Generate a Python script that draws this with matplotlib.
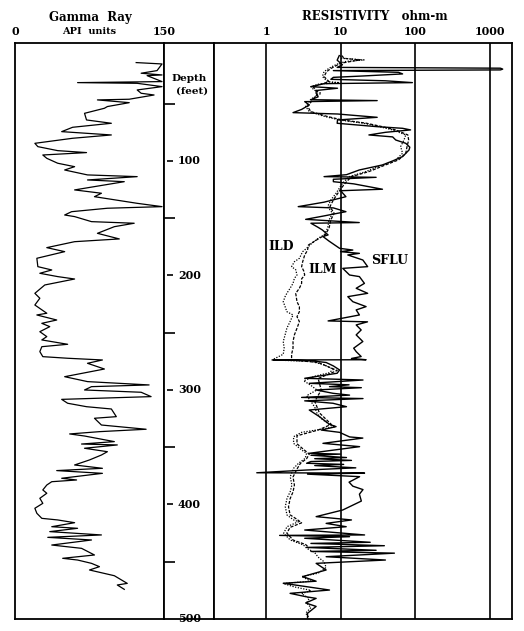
import matplotlib.pyplot as plt
import matplotlib.transforms as mtransforms

# gamma ray log (depth ft, API units)
gr_depth = [14.1, 15.3, 21.1, 23.4, 24.9, 25.5, 30.7, 31.6, 32.2, 35.1, 38.0, 40.9, 42.4,
            46.1, 46.7, 49.1, 52.5, 54.0, 58.4, 64.2, 67.1, 70.6, 74.4, 77.3, 80.2, 84.6,
            87.5, 91.0, 92.7, 94.8, 97.7, 102.0, 105.0, 107.9, 112.2, 113.7, 116.6, 118.1,
            122.4, 125.3, 128.2, 131.2, 137.0, 139.9, 141.3, 144.3, 147.2, 148.6, 153.0,
            154.4, 157.4, 163.2, 168.1, 170.5, 175.7, 179.2, 185.0, 192.3, 195.2, 198.1,
            201.0, 203.1, 208.3, 215.6, 219.9, 225.8, 233.0, 234.5, 238.9, 241.8, 244.7,
            249.1, 253.4, 256.3, 260.1, 262.2, 266.5, 270.9, 272.3, 273.8, 276.7, 281.7,
            288.4, 292.7, 295.6, 297.1, 300.0, 302.0, 305.8, 308.2, 311.6, 314.6, 316.6,
            323.3, 324.7, 330.6, 334.3, 336.4, 338.4, 340.2, 345.1, 347.2, 348.0, 350.9,
            353.9, 356.8, 361.1, 365.5, 368.4, 370.4, 372.8, 377.1, 378.6, 380.1, 383.0,
            387.3, 390.2, 394.6, 399.0, 403.3, 407.7, 412.1, 413.5, 415.9, 419.4, 420.8,
            423.7, 426.6, 428.7, 431.0, 435.4, 438.3, 444.1, 447.0, 448.5, 451.4, 454.3,
            457.2, 462.2, 468.9, 470.3, 474.1]
gr_api = [122, 148, 143, 127, 148, 133, 148, 63, 123, 148, 123, 127, 140,
          115, 83, 115, 93, 90, 70, 72, 97, 58, 47, 97, 58, 20,
          23, 43, 72, 28, 32, 43, 60, 50, 73, 123, 73, 110,
          80, 60, 87, 80, 123, 148, 93, 57, 50, 60, 77,
          120, 100, 83, 105, 60, 32, 50, 22, 23, 37, 25,
          43, 60, 30, 20, 25, 20, 32, 22, 42, 27, 35,
          25, 32, 27, 53, 27, 25, 28, 53, 88, 73, 90,
          50, 73, 135, 77, 70, 127, 137, 47, 53, 72, 97,
          102, 80, 87, 132, 85, 55, 70, 100, 67, 103, 70,
          93, 87, 75, 60, 88, 42, 88, 47, 62, 37, 32,
          28, 32, 25, 28, 20, 22, 27, 43, 60, 37, 63,
          35, 87, 33, 77, 37, 67, 80, 48, 63, 77, 85,
          75, 100, 113, 103, 110]

# resistivity logs (depth ft, ohm-m)
sflu_depth = [8, 12, 16, 18.3, 18.5, 19.0, 19.8, 20.5, 21.1, 22.6, 24.0, 25.8, 27.0, 28.7,
              30.0, 31.6, 32.5, 35.1, 36.5, 38.5, 40.9, 44.0, 46.5, 47.3, 48.2, 51.1, 55.0,
              57.8, 59.0, 61.9, 64.2, 67.1, 70.0, 71.5, 72.9, 75.0, 77.3, 79.0, 81.7, 84.6,
              88.0, 90.4, 96.2, 100, 103.5, 107.9, 112, 113.7, 114.3, 116, 118.1, 120, 124.7,
              126, 131.2, 136, 139.9, 141, 144.3, 148, 151, 153.8, 154.4, 158, 160.3, 164.6,
              166, 170, 176.3, 177.8, 179.2, 180.7, 182.1, 186.5, 192.3, 193.8, 199.6, 201,
              206.9, 211.2, 215.6, 218.5, 222.9, 227.2, 230.1, 234.5, 239.7, 240.5, 243.2,
              247.6, 251.9, 257.7, 263.5, 266.5, 270.8, 272.5, 273.6, 273.8, 274.5, 276, 279,
              282.5, 285.4, 289.8, 291.3, 294.2, 295.5, 297.1, 298, 300, 302.9, 304.5, 306.5,
              307.5, 309.5, 311.6, 314.6, 317.5, 323.3, 330, 332, 335, 337, 341, 342, 346.6,
              349.5, 355.3, 356, 357, 359, 360, 361.5, 362.5, 364, 365, 366, 368, 369.9, 372.3,
              372.6, 373.5, 375.7, 380.5, 384, 387, 391, 397, 404.8, 410.6, 413.5, 416.5,
              419.4, 422.3, 426.6, 427, 428.1, 429.5, 433, 434, 436, 437.5, 440, 441, 442.5,
              445.6, 448.5, 451.4, 457.2, 463, 467, 468.8, 474.7, 477.6, 480.5, 482, 486, 489,
              495, 499]
sflu_ohm = [9.6, 9.0, 10.6, 9.0, 40, 1400, 1500, 1400, 8.0, 60, 68, 20, 8.0, 7.4,
            40, 92, 6.0, 4.0, 9.1, 4.7, 4.7, 5.0, 4.0, 31, 3.3, 3.8, 3.0,
            2.3, 9.1, 31, 9.1, 9.0, 30, 68, 87, 40, 24, 50, 55, 75,
            85, 83, 68, 50, 36.5, 17.8, 12, 6.0, 30, 8.0, 8.0, 15, 36.5,
            10, 11.8, 6.0, 2.7, 8.0, 11.8, 6.0, 3.4, 17.8, 4.0, 5.0, 5.7, 6.8,
            5.8, 7.0, 9.7, 14.6, 10, 17.9, 12.5, 19.9, 23.1, 10.7, 13.2, 17.9,
            20.9, 16.2, 23.1, 12.5, 14.6, 22, 16.2, 17.9, 6.8, 23, 16.2,
            18.9, 16.2, 19.9, 15, 16.2, 18.9, 14, 22, 1.24, 4.0, 6.4, 8.0,
            9.7, 9.0, 3.3, 20, 3.8, 13, 7.1, 19, 4.7, 7.9, 13.2, 3.0,
            20, 3.3, 7.9, 12, 3.8, 5.2, 7.1, 8.7, 5.5, 9.7, 13.2, 19.9, 5.8,
            18, 3.8, 10, 4, 12, 4.5, 14, 4, 3.5, 11, 4.5, 16, 3.5, 0.75,
            21, 3.6, 18, 13, 14.6, 20, 17.9, 19, 10.7, 4.7, 14, 6.4,
            11.9, 3.3, 21, 1.52, 13.2, 3.3, 25, 4, 38.7, 3.5, 30, 4, 52.8,
            6.4, 40, 4.7, 6.4, 3.1, 4.7, 1.7, 7.1, 2.1, 3.4, 4.7, 3.4, 4.7,
            3.6, 3.6]

ild_depth = [8, 10.3, 11.8, 13, 14.7, 17, 19.1, 22, 26.3, 30.7, 31.6, 33, 35.1, 38, 40.9,
             46, 52.5, 56.9, 61, 64.2, 67, 70, 72.9, 77.3, 81.7, 87.5, 93.3, 99.1, 103.5,
             109.3, 113.7, 119.5, 123.9, 128.2, 134.1, 139.9, 145.7, 151.5, 158.8, 164.6,
             167.5, 172, 176.3, 179.2, 185, 188, 192.3, 195, 199.6, 202.5, 206.9, 211.2,
             215.6, 218.5, 222.9, 227.2, 231.6, 234.5, 240.3, 246.1, 251.9, 257.7, 263.5,
             268.8, 273.8, 275, 278, 282, 285, 288, 292, 296, 300, 305, 310, 315, 320, 325,
             330, 332, 334.9, 337, 340.8, 346.6, 352.4, 355.3, 359.7, 364, 368.4, 375.7, 383,
             388.8, 394.6, 401.9, 409.2, 413.5, 415, 419.4, 425.2, 431, 435.4, 438.3, 442,
             446, 450, 455, 460, 463, 467, 469, 472, 475, 478, 482, 486, 490, 495, 499]
ild_ohm = [10, 10.1, 20.7, 12, 9.6, 8, 7.0, 6.0, 5.7, 6.7, 9.6, 5, 4.0, 4.4, 5.5,
           4, 3.4, 3.8, 6, 9.6, 20, 33, 50, 75, 71, 64, 68, 55, 36.5,
           21.8, 13.1, 10.6, 9.6, 8.7, 7.4, 6.7, 7.8, 7.0, 6.7, 6.0,
           5, 4.1, 3.5, 3.1, 2.8, 2.4, 2.2, 2.5, 2.6, 2.4, 2.3, 2.1,
           1.9, 1.8, 1.7, 1.8, 1.9, 2.3, 2.1, 1.9, 1.8, 1.7, 1.75,
           1.7, 1.2, 4.0, 6.0, 8.0, 7.0, 4.5, 3.2, 4.0, 4.8, 3.5, 4.0, 4.5, 4.8, 5.5,
           7.0, 8.5, 4.8, 3.0, 2.34, 2.34, 3.0, 3.5, 3.35, 2.73, 2.34, 2.11, 2.22,
           2.11, 1.91, 1.81, 1.91, 2.34, 2.73, 1.91, 1.72, 2.11, 3.18, 3.52, 4.5,
           5.0, 6.0, 6.4, 5.0, 3.0, 4.0, 1.7, 2.4, 4.0, 3.0, 3.8, 3.5, 4.0, 3.4, 3.8]

ilm_depth = [8, 10.3, 11.8, 14.7, 19.1, 22, 26.3, 30.7, 33, 35.1, 40.9, 46, 52.5, 56.9,
             61, 64.2, 67, 70, 72.9, 77.3, 81.7, 87.5, 93.3, 99.1, 103.5, 109.3, 113.7,
             119.5, 123.9, 128.2, 134.1, 139.9, 145.7, 151.5, 158.8, 164.6, 167.5, 173.4,
             178, 182.1, 188, 192.3, 196, 199.6, 203, 206.9, 211.2, 215.6, 222.9, 227.2,
             231.6, 236, 240.3, 246.1, 251.9, 257.7, 263.5, 268.8, 273.8, 276, 283, 290,
             300, 310, 320, 330, 335, 340, 347, 352, 356, 360, 364, 369, 376, 383, 389, 395,
             402, 409, 413, 416, 420, 425, 431, 435, 438]
ilm_ohm = [10.5, 11, 18, 10, 7.5, 6.5, 6.0, 7.0, 5.5, 4.3, 5.0, 4.3, 3.6, 4.0,
           6.5, 10.5, 22, 36, 55, 80, 82, 78, 75, 60, 40, 24, 14,
           11.5, 10.2, 9.2, 8, 7.2, 8.2, 7.4, 7.0, 6.2, 5.2, 3.7,
           3.6, 3.3, 3.1, 3.0, 3.2, 3.3, 3.0, 3.0, 2.8, 2.5, 2.6, 2.8,
           2.8, 2.6, 2.8, 2.6, 2.4, 2.3, 2.3, 2.2, 2.2, 5, 9, 5,
           5.5, 4.5, 5.2, 7.5, 5, 2.6, 2.6, 3.2, 3.8, 3.5, 2.9, 2.6, 2.3, 2.4, 2.3, 2.1,
           2.0, 2.1, 2.6, 3.0, 2.1, 1.9, 2.3, 3.4, 3.8]

depth_minor = [50, 150, 250, 350, 450]
depth_major = [100, 200, 300, 400, 500]
res_ticks = [1, 10, 100, 1000]

W, H = 524, 631
fig = plt.figure(figsize=(W / 100, H / 100), dpi=100)
plt.rcParams['font.family'] = 'DejaVu Serif'
bot, hgt = 12 / H, 576 / H
ax_gr = fig.add_axes([15 / W, bot, 149 / W, hgt])
ax_dp = fig.add_axes([164 / W, bot, 50 / W, hgt])
ax_rs = fig.add_axes([214 / W, bot, 298 / W, hgt])

for ax in (ax_gr, ax_dp, ax_rs):
    ax.set_ylim(500, -3)
    for s in ax.spines.values():
        s.set_linewidth(1.3)

# gamma ray track
ax_gr.plot(gr_api, gr_depth, color='k', lw=0.9)
ax_gr.set_xlim(0, 150)
ax_gr.xaxis.tick_top()
ax_gr.set_xticks([0, 150])
ax_gr.set_xticklabels(['0', '150'], fontweight='bold', fontsize=8)
ax_gr.tick_params(axis='x', length=0, pad=4)
ax_gr.set_yticks([])
ax_gr.text(0.5, 1.0, 'API  units', transform=ax_gr.transAxes, ha='center', va='bottom',
           fontsize=7, fontweight='bold').set_position((0.5, 1.013))

# depth track
ax_dp.set_xlim(0, 1)
ax_dp.set_xticks([])
ax_dp.set_yticks(depth_minor)
ax_dp.set_yticklabels([])
ax_dp.tick_params(axis='y', direction='in', length=8, width=1.2)
ax_dp.hlines(depth_major[:-1], 0.06, 0.18, color='k', lw=1.2)
for d in depth_major:
    ax_dp.text(0.28, d, str(d), ha='left', va='center', fontsize=8, fontweight='bold')
ax_dp.text(0.5, 28, 'Depth', ha='center', va='center', fontsize=7.5, fontweight='bold')
ax_dp.text(0.56, 39, '(feet)', ha='center', va='center', fontsize=7.5, fontweight='bold')

# resistivity track
ax_rs.set_xscale('log')
ax_rs.set_xlim(0.2, 2000)
ax_rs.plot(ild_ohm, ild_depth, color='k', lw=0.9, ls=(0, (1, 1.2)))
ax_rs.plot(ilm_ohm, ilm_depth, color='k', lw=0.9, ls=(0, (2.5, 1.2)))
ax_rs.plot(sflu_ohm, sflu_depth, color='k', lw=1.0)
for r in res_ticks:
    ax_rs.axvline(r, color='k', lw=1.2)
ax_rs.xaxis.tick_top()
ax_rs.set_xticks(res_ticks)
ax_rs.set_xticklabels([str(r) for r in res_ticks], fontweight='bold', fontsize=8)
ax_rs.xaxis.set_minor_locator(plt.NullLocator())
ax_rs.tick_params(axis='x', length=0, pad=4)
ax_rs.set_yticks([])
ax_rs.text(1.6, 175, 'ILD', ha='center', va='center', fontsize=9, fontweight='bold')
ax_rs.text(5.7, 195, 'ILM', ha='center', va='center', fontsize=9, fontweight='bold')
ax_rs.text(45, 186.5, 'SFLU', ha='center', va='center', fontsize=9, fontweight='bold')

fig.text(90 / W, 1 - 17 / H, 'Gamma  Ray', ha='center', va='center', fontsize=8.5, fontweight='bold')
fig.text(375 / W, 1 - 17 / H, 'RESISTIVITY   ohm-m', ha='center', va='center',
         fontsize=8.5, fontweight='bold')

fig.savefig('out.png', dpi=100, facecolor='white')
